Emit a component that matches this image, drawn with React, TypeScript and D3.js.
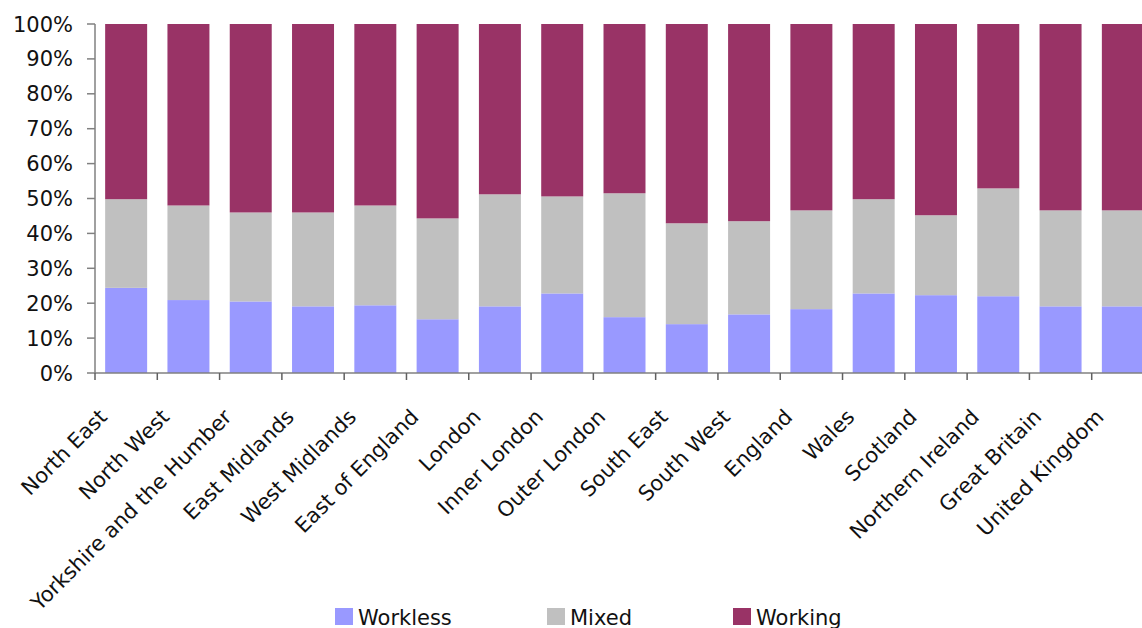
import React from "react";
import * as d3 from "d3";

const categories = [
  "North East", "North West", "Yorkshire and the Humber", "East Midlands", "West Midlands",
  "East of England", "London", "Inner London", "Outer London", "South East", "South West",
  "England", "Wales", "Scotland", "Northern Ireland", "Great Britain", "United Kingdom",
];
const workless = [24.4, 20.9, 20.5, 19.1, 19.4, 15.4, 19.1, 22.8, 16.0, 14.0, 16.8, 18.3, 22.8, 22.3, 22.0, 19.1, 19.1];
const mixed = [25.4, 27.1, 25.5, 26.9, 28.6, 28.9, 32.1, 27.8, 35.5, 28.9, 26.7, 28.3, 27.0, 22.9, 30.9, 27.5, 27.5];
const working = workless.map((w, i) => 100 - w - mixed[i]);
const seriesNames = ["Workless", "Mixed", "Working"];
const seriesColors = ["#9999FF", "#C0C0C0", "#993366"];
const yTicks = [0, 10, 20, 30, 40, 50, 60, 70, 80, 90, 100];

const W = 1142, H = 628;
const FONT = "'DejaVu Sans', sans-serif";

export default function App() {
  const x = d3.scaleBand<string>().domain(categories).range([95, 1154]).paddingInner(0.326).paddingOuter(0.163);
  const y = d3.scaleLinear().domain([0, 100]).range([373, 24]);
  const rows = categories.map((c, i) => ({ cat: c, Workless: workless[i], Mixed: mixed[i], Working: working[i] }));
  const stack = d3.stack<any>().keys(seriesNames)(rows);
  const step = x.step();
  const half = (x.paddingInner() * step) / 2;
  const boundaries = categories.map((c) => (x(c) as number) - half);
  boundaries.push((x(categories[categories.length - 1]) as number) + x.bandwidth() + half);

  const legendX = [335, 547, 733];

  return (
    <svg width={W} height={H} style={{ position: "absolute", left: 0, top: 0, background: "#fff" }} fontFamily={FONT}>
      {stack.map((s, si) => (
        <g key={s.key} fill={seriesColors[si]}>
          {s.map((d, i) => (
            <rect key={i} x={x(categories[i])} width={x.bandwidth()} y={y(d[1])} height={y(d[0]) - y(d[1])} />
          ))}
        </g>
      ))}
      {/* Y axis */}
      <line x1={95} x2={95} y1={24} y2={373} stroke="#808080" strokeWidth={1.5} />
      {yTicks.map((t) => (
        <g key={t}>
          <line x1={87} x2={95} y1={y(t)} y2={y(t)} stroke="#808080" strokeWidth={1.5} />
          <text x={73} y={y(t)} dy="0.36em" textAnchor="end" fontSize={21} fill="#111">{t}%</text>
        </g>
      ))}
      {/* X axis */}
      <line x1={95} x2={W} y1={373} y2={373} stroke="#808080" strokeWidth={1.5} />
      {boundaries.map((b, i) => (
        <line key={i} x1={b} x2={b} y1={373} y2={380} stroke="#606060" strokeWidth={1.5} />
      ))}
      {categories.map((c) => {
        const cx = (x(c) as number) + x.bandwidth() / 2 - 23;
        const cy = 413;
        return (
          <text key={c} x={cx} y={cy} dy="0.35em" textAnchor="end" fontSize={21} fill="#111"
            transform={`rotate(-45, ${cx}, ${cy})`}>{c}</text>
        );
      })}
      {/* Legend */}
      {seriesNames.map((n, i) => (
        <g key={n}>
          <rect x={legendX[i]} y={608} width={18} height={17} fill={seriesColors[i]} />
          <text x={legendX[i] + 23} y={625} fontSize={21} fill="#111">{n}</text>
        </g>
      ))}
    </svg>
  );
}
